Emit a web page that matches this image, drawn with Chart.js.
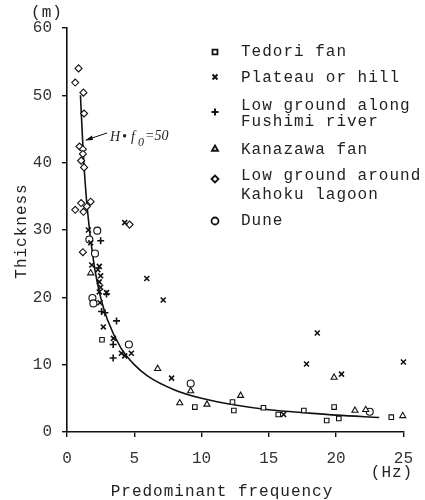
<!DOCTYPE html>
<html>
<head>
<meta charset="utf-8">
<script src="https://cdn.jsdelivr.net/npm/chart.js@4/dist/chart.umd.min.js"></script>
<style>
  html, body { margin: 0; padding: 0; background: #fff; }
  #wrap { width: 425px; height: 500px; }
</style>
</head>
<body>
<div id="wrap"><canvas id="myChart" width="425" height="500"></canvas></div>
<script>
// values: f = predominant frequency (Hz), H = thickness (m)
var tedoriF = [2.6, 9.5, 12.3, 12.4, 14.6, 15.7, 17.6, 19.3, 19.85, 20.2, 24.1];
var tedoriH = [13.7, 3.7, 4.45, 3.2, 3.6, 2.6, 3.2, 1.7, 3.7, 2.0, 2.2];

var plateauF = [1.59, 1.76, 1.84, 2.4, 2.3, 2.5, 2.4, 2.5, 2.4, 2.45, 2.94, 2.7, 3.45, 4.04, 4.29, 4.78, 4.29, 5.93, 7.15, 7.77, 16.1, 17.8, 18.6, 20.4, 25.0];
var plateauH = [30.0, 28.1, 24.8, 24.6, 24.1, 23.2, 22.3, 21.5, 20.8, 19.2, 20.7, 15.6, 13.9, 11.7, 11.3, 11.7, 31.1, 22.8, 19.6, 8.0, 2.6, 10.1, 14.7, 8.6, 10.4];

var fushimiF = [2.5, 2.94, 2.57, 2.82, 3.68, 3.43, 3.43];
var fushimiH = [28.4, 20.5, 17.9, 17.7, 16.5, 13.0, 11.0];

var kanazawaF = [1.76, 6.74, 9.19, 8.38, 10.4, 12.9, 19.85, 21.4, 22.2, 24.95];
var kanazawaH = [23.6, 9.4, 6.1, 4.3, 4.1, 5.4, 8.1, 3.2, 3.3, 2.4];

var kahokuF = [0.86, 0.61, 1.22, 1.27, 0.93, 1.18, 1.18, 1.05, 1.27, 1.05, 1.76, 1.47, 0.61, 1.22, 4.65, 1.18];
var kahokuH = [54.0, 51.9, 50.4, 47.3, 42.4, 42.0, 41.3, 40.3, 39.3, 34.0, 34.2, 33.5, 33.0, 32.7, 30.8, 26.7];

var duneF = [2.25, 1.66, 2.08, 1.89, 1.96, 4.6, 9.19, 22.5];
var duneH = [29.9, 28.6, 26.5, 19.9, 19.1, 13.0, 7.2, 3.0];

// the H*f0=50 curve as drawn
var curveF = [1.0, 1.2, 1.5, 2, 2.5, 3, 4, 5, 6, 8, 10, 12.5, 15, 18, 20, 23.2];
var curveH = [50, 41.7, 33.3, 25, 20, 16.7, 12.5, 10, 8.3, 6.25, 5, 4, 3.3, 2.8, 2.5, 2.16];

var xTicks = [0, 5, 10, 15, 20, 25];
var yTicks = [0, 10, 20, 30, 40, 50, 60];

var legendNames = [["Tedori fan"], ["Plateau or hill"], ["Low ground along", "Fushimi river"], ["Kanazawa fan"], ["Low ground around", "Kahoku lagoon"], ["Dune"]];
var legendStyles = ["rect", "crossRot", "cross", "triangle", "rectRot", "circle"];

function pairs(fs, hs) {
  var out = [];
  for (var i = 0; i < fs.length; i++) out.push({x: fs[i], y: hs[i]});
  return out;
}

function pointSet(label, fs, hs, style) {
  return {
    label: label,
    data: pairs(fs, hs),
    pointStyle: style,
    pointRadius: style == "rect" ? 3.2 : 3.5,
    pointBorderWidth: (style == "crossRot" || style == "cross") ? 1.6 : 1.1,
    borderColor: "#111",
    backgroundColor: "#fff",
    showLine: false,
    clip: false
  };
}

var MONO = "'Liberation Mono', 'DejaVu Sans Mono', monospace";

var textPlugin = {
  id: "texts",
  afterDraw: function(chart) {
    var ctx = chart.ctx;
    ctx.save();
    ctx.fillStyle = "#222";
    ctx.strokeStyle = "#111";
    ctx.letterSpacing = "1px";
    ctx.font = "16px " + MONO;
    ctx.textBaseline = "middle";
    ctx.textAlign = "left";

    // legend
    var rows = [[52], [78], [106, 122], [150], [176, 195], [221]];
    var markY = [52, 77, 112, 149, 179, 221];
    for (var i = 0; i < legendNames.length; i++) {
      for (var j = 0; j < legendNames[i].length; j++) {
        ctx.fillText(legendNames[i][j], 241, rows[i][j]);
      }
      ctx.fillStyle = "#fff";
      ctx.lineWidth = (legendStyles[i] == "crossRot" || legendStyles[i] == "cross") ? 2 : 1.8;
      Chart.helpers.drawPoint(ctx, {pointStyle: legendStyles[i], radius: 3.5, borderWidth: ctx.lineWidth, rotation: 0}, 215, markY[i]);
      ctx.fillStyle = "#222";
    }

    // axis titles and units
    ctx.textAlign = "center";
    ctx.fillText("Predominant frequency", 222, 492);
    ctx.fillText("(Hz)", 392, 473);
    ctx.fillText("(m)", 47, 13);
    ctx.save();
    ctx.translate(22, 231);
    ctx.rotate(-Math.PI / 2);
    ctx.fillText("Thickness", 0, 0);
    ctx.restore();

    // curve annotation
    ctx.letterSpacing = "0px";
    ctx.textAlign = "left";
    ctx.font = "italic 14px 'Liberation Serif', serif";
    ctx.fillText("H", 110, 137);
    ctx.fillText("\u2022", 122, 137);
    ctx.fillText("f", 131, 137);
    ctx.font = "italic 12px 'Liberation Serif', serif";
    ctx.fillText("0", 138, 143);
    ctx.font = "italic 14px 'Liberation Serif', serif";
    ctx.fillText("=50", 145, 136);
    ctx.lineWidth = 1;
    ctx.beginPath();
    ctx.moveTo(107, 133);
    ctx.lineTo(86, 140);
    ctx.stroke();
    ctx.beginPath();
    ctx.moveTo(85, 140.5);
    ctx.lineTo(92, 135.5);
    ctx.lineTo(93, 140);
    ctx.closePath();
    ctx.fillStyle = "#111";
    ctx.fill();
    ctx.restore();
  }
};

var ctx = document.getElementById("myChart").getContext("2d");
var myChart = new Chart(ctx, {
  type: "scatter",
  data: {
    datasets: [
      pointSet("Tedori fan", tedoriF, tedoriH, "rect"),
      pointSet("Plateau or hill", plateauF, plateauH, "crossRot"),
      pointSet("Low ground along Fushimi river", fushimiF, fushimiH, "cross"),
      pointSet("Kanazawa fan", kanazawaF, kanazawaH, "triangle"),
      pointSet("Low ground around Kahoku lagoon", kahokuF, kahokuH, "rectRot"),
      pointSet("Dune", duneF, duneH, "circle"),
      {
        label: "H*f0=50",
        data: pairs(curveF, curveH),
        showLine: true,
        pointRadius: 0,
        borderColor: "#111",
        borderWidth: 1.6,
        cubicInterpolationMode: "monotone"
      }
    ]
  },
  options: {
    responsive: false,
    animation: false,
    layout: { padding: { top: 28, right: 18, left: 0, bottom: 0 } },
    plugins: { legend: { display: false }, tooltip: { enabled: false } },
    scales: {
      x: {
        type: "linear",
        min: 0, max: 25,
        afterFit: function(s) { s.height = 68; },
        afterBuildTicks: function(s) { s.ticks = xTicks.map(function(v) { return {value: v}; }); },
        border: { color: "#111", width: 1.6 },
        grid: { drawOnChartArea: false, tickLength: 5, color: "#111", lineWidth: 1.4 },
        ticks: { padding: 12, color: "#333", font: { family: MONO, size: 16 } }
      },
      y: {
        type: "linear",
        min: 0, max: 60,
        afterFit: function(s) { s.width = 67; },
        afterBuildTicks: function(s) { s.ticks = yTicks.map(function(v) { return {value: v}; }); },
        border: { color: "#111", width: 1.6 },
        grid: { drawOnChartArea: false, tickLength: 5, color: "#111", lineWidth: 1.4 },
        ticks: { padding: 10, color: "#333", font: { family: MONO, size: 16 } }
      }
    }
  },
  plugins: [textPlugin]
});
</script>
</body>
</html>
